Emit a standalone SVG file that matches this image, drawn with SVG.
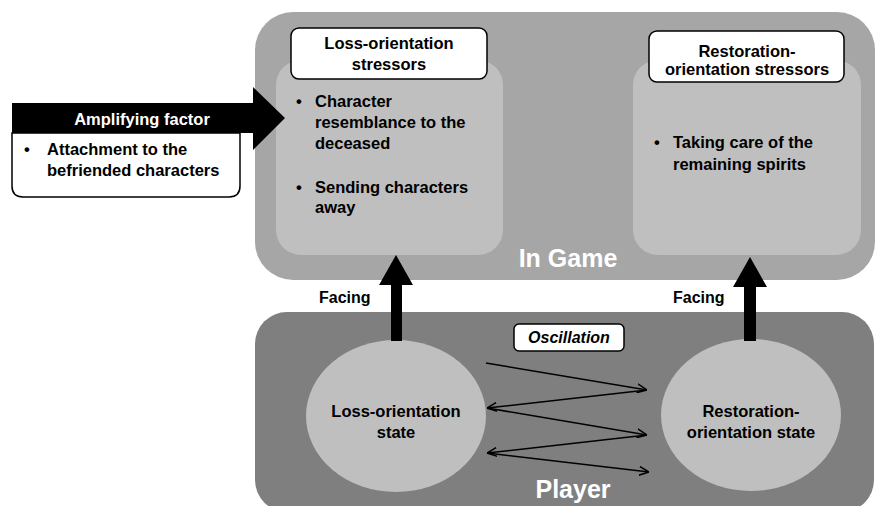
<svg xmlns="http://www.w3.org/2000/svg" width="876" height="506" viewBox="0 0 876 506">
<defs>
<style>
text{font-family:"Liberation Sans",Arial,sans-serif;font-weight:bold;fill:#000}
.t{font-size:16.5px}
.c{text-anchor:middle}
.w{fill:#fff}
.big{font-size:25px}
.ttl{fill:#fff;stroke:#000;stroke-width:1.5}
.inner{fill:#bfbfbf}
.osc{fill:none;stroke:#000;stroke-width:1.5}
</style>
<marker id="open" viewBox="0 0 10 10" refX="10" refY="5" markerWidth="10" markerHeight="10" markerUnits="userSpaceOnUse" orient="auto">
<path d="M0,0.5 L10,5 L0,9.5" fill="none" stroke="#000" stroke-width="1.5"/>
</marker>
</defs>

<g id="in-game">
<rect x="255" y="12" width="620" height="268" rx="38" fill="#a6a6a6"/>
<text class="w big c" x="568" y="267">In Game</text>
</g>

<g id="player">
<rect x="255" y="312" width="619" height="200" rx="32" fill="#7f7f7f"/>
<text class="w c" style="font-size:25px" x="573" y="498">Player</text>
</g>

<g id="loss-stressors">
<rect class="inner" x="276" y="60" width="227" height="195" rx="25"/>
<rect class="ttl" x="291" y="28" width="196" height="51" rx="8"/>
<text class="t c" x="389" y="49">Loss-orientation</text>
<text class="t c" x="389" y="70">stressors</text>
<text class="t" x="296" y="107">•</text>
<text class="t" x="315" y="107">Character</text>
<text class="t" x="315" y="128">resemblance to the</text>
<text class="t" x="315" y="149">deceased</text>
<text class="t" x="296" y="193">•</text>
<text class="t" x="315" y="193">Sending characters</text>
<text class="t" x="315" y="213">away</text>
</g>

<g id="restoration-stressors">
<rect class="inner" x="633" y="60" width="228" height="195" rx="25"/>
<rect class="ttl" x="649" y="31" width="195" height="51" rx="8"/>
<text class="t c" x="747" y="57">Restoration-</text>
<text class="t c" x="747" y="75">orientation stressors</text>
<text class="t" x="654" y="148">•</text>
<text class="t" x="673" y="148">Taking care of the</text>
<text class="t" x="673" y="170">remaining spirits</text>
</g>

<g id="amplifying-factor">
<path d="M12,103 L253,103 L253,87 L285,118 L253,150 L253,133 L12,133 Z" fill="#000"/>
<text class="t c w" x="142" y="125">Amplifying factor</text>
<path d="M12,133 L240,133 L240,186 Q240,197 229,197 L23,197 Q12,197 12,186 Z" fill="#fff" stroke="#000" stroke-width="1.5"/>
<text class="t" x="24" y="155">•</text>
<text class="t" x="47" y="155">Attachment to the</text>
<text class="t" x="47" y="176">befriended characters</text>
</g>

<g id="loss-state">
<ellipse cx="396" cy="416" rx="90" ry="76" fill="#bfbfbf"/>
<text class="t c" x="396" y="417">Loss-orientation</text>
<text class="t c" x="396" y="438">state</text>
</g>

<g id="restoration-state">
<ellipse cx="751" cy="415" rx="90" ry="76" fill="#bfbfbf"/>
<text class="t c" x="751" y="417">Restoration-</text>
<text class="t c" x="751" y="438">orientation state</text>
</g>

<g id="oscillation-label">
<rect class="ttl" x="514" y="324" width="110" height="27" rx="5"/>
<text class="c" style="font-size:16px;font-style:italic" x="569" y="343">Oscillation</text>
</g>

<g id="connectors">
<path d="M391,341 L391,285 L379,285 L396,255 L413,285 L402,285 L402,341 Z" fill="#000"/>
<text style="font-size:16px" x="319" y="303">Facing</text>
<path d="M744,341 L744,287 L733,287 L750,257 L767,287 L756,287 L756,341 Z" fill="#000"/>
<text style="font-size:16px" x="673" y="303">Facing</text>
<line class="osc" x1="486" y1="363" x2="647" y2="390" marker-end="url(#open)"/>
<line class="osc" x1="647" y1="390" x2="487" y2="408" marker-end="url(#open)"/>
<line class="osc" x1="487" y1="408" x2="647" y2="435" marker-end="url(#open)"/>
<line class="osc" x1="647" y1="435" x2="487" y2="453" marker-end="url(#open)"/>
<line class="osc" x1="487" y1="453" x2="649" y2="472" marker-end="url(#open)"/>
</g>
</svg>
